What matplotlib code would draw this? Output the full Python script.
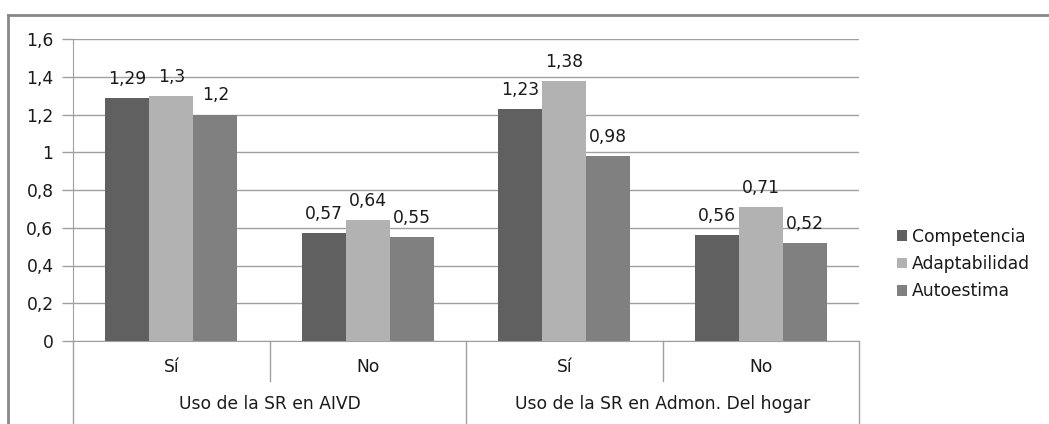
import matplotlib
matplotlib.use("Agg")
import matplotlib.pyplot as plt
from matplotlib.lines import Line2D

# Chart data
groups = ["Uso de la SR en AIVD", "Uso de la SR en Admon. Del hogar"]
subcats = ["Sí", "No", "Sí", "No"]
series_names = ["Competencia", "Adaptabilidad", "Autoestima"]
competencia = [1.29, 0.57, 1.23, 0.56]
adaptabilidad = [1.3, 0.64, 1.38, 0.71]
autoestima = [1.2, 0.55, 0.98, 0.52]
yticks = [0, 0.2, 0.4, 0.6, 0.8, 1.0, 1.2, 1.4, 1.6]

COLORS = ["#606060", "#b2b2b2", "#808080"]
GRID = "#a0a0a0"
TXT = "#1a1a1a"
FONT = "DejaVu Sans"
FS = 12.3

W, H = 1049, 424
fig = plt.figure(figsize=(W / 100, H / 100), dpi=100)
plt.rcParams["font.family"] = [FONT]

# plot area in pixel terms
left, right, bottom, top = 73, 859, 341, 39
ax = fig.add_axes([left / W, 1 - bottom / H, (right - left) / W, (bottom - top) / H])

bar_w = 0.224
x = list(range(len(subcats)))
for i, (vals, name) in enumerate(zip([competencia, adaptabilidad, autoestima], series_names)):
    pos = [xi + (i - 1) * bar_w for xi in x]
    ax.bar(pos, vals, width=bar_w, color=COLORS[i], label=name, zorder=3)
    for p, v in zip(pos, vals):
        ax.annotate(f"{v:g}".replace(".", ","), (p, v), xytext=(0, 10),
                    textcoords="offset pixels", ha="center", va="bottom",
                    fontsize=FS, color=TXT)

ax.set_xlim(-0.5, len(subcats) - 0.5)
ax.set_ylim(0, 1.6)
ax.set_yticks(yticks)
ax.set_yticklabels([f"{t:g}".replace(".", ",") for t in yticks], fontsize=FS, color=TXT)
ax.tick_params(axis="y", length=8, color=GRID, width=1, pad=6)
ax.set_xticks([])
ax.yaxis.grid(True, color=GRID, linewidth=1, zorder=0)
for s in ["top", "right"]:
    ax.spines[s].set_visible(False)
ax.spines["left"].set_color(GRID)
ax.spines["bottom"].set_color(GRID)

# two-level category axis drawn below the plot
def px_to_fig(px, py):
    return px / W, 1 - py / H

cat_w = (right - left) / len(subcats)
for k in range(len(subcats) + 1):
    xp = left + k * cat_w
    y_end = 381 if k % 2 == 1 else H
    x0, y0 = px_to_fig(xp, bottom)
    x1, y1 = px_to_fig(xp, y_end)
    fig.add_artist(Line2D([x0, x1], [y0, y1], color=GRID, linewidth=1))
for k, lab in enumerate(subcats):
    cx, cy = px_to_fig(left + (k + 0.5) * cat_w, 367)
    fig.text(cx, cy, lab, ha="center", va="center", fontsize=FS, color=TXT)
for g, lab in enumerate(groups):
    cx, cy = px_to_fig(left + (2 * g + 1) * cat_w, 404)
    fig.text(cx, cy, lab, ha="center", va="center", fontsize=FS, color=TXT)

# legend
leg = fig.legend(loc="center left", bbox_to_anchor=(888 / W, 1 - 264 / H),
                 frameon=False, fontsize=FS, handlelength=0.6, handleheight=0.6,
                 handletextpad=0.3, labelspacing=0.55, borderpad=0)
for t in leg.get_texts():
    t.set_color(TXT)

# chart frame
fig.add_artist(Line2D([8 / W, 8 / W], [0, 1 - 15 / H], color="#888888", linewidth=2))
fig.add_artist(Line2D([8 / W, 1], [1 - 15 / H, 1 - 15 / H], color="#888888", linewidth=2))

fig.savefig("out.png", dpi=100)
